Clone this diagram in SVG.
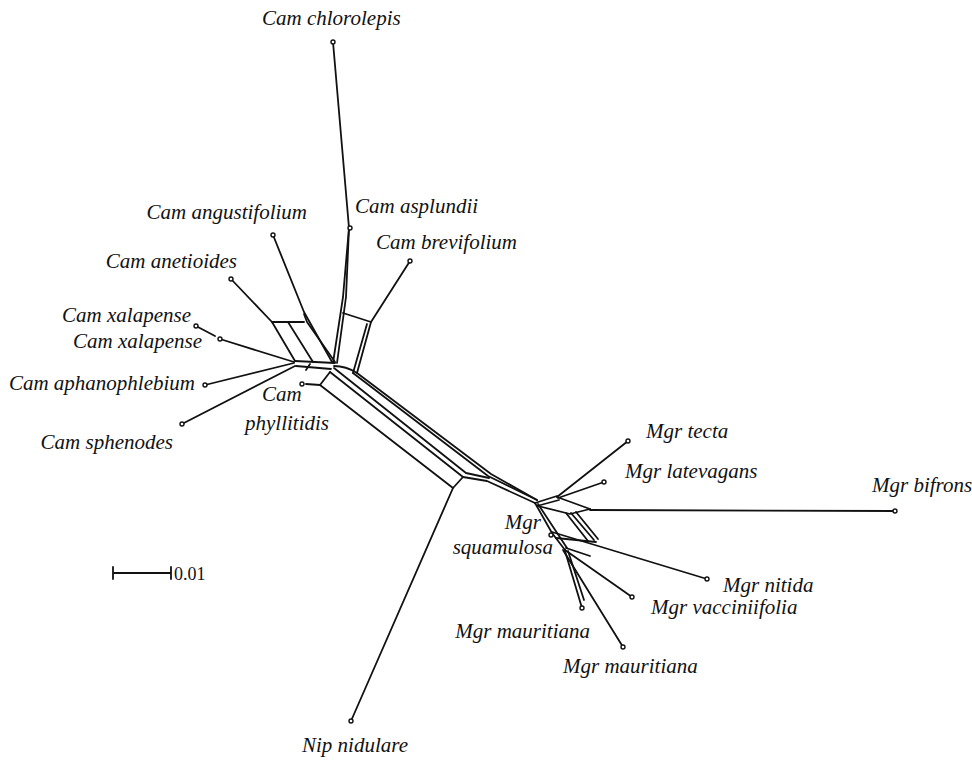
<svg xmlns="http://www.w3.org/2000/svg" width="972" height="761" viewBox="0 0 972 761">
<style>
.e{fill:none;stroke:#111;stroke-width:1.8;stroke-linejoin:round;stroke-linecap:round}
.t{font-family:"Liberation Serif","Times New Roman",serif;font-style:italic;font-size:21px;fill:#111}
.r{text-anchor:end}
.s{font-family:"Liberation Serif","Times New Roman",serif;font-size:18px;fill:#111}
.d{fill:#fff;stroke:#111;stroke-width:1.4}
</style>
<rect width="972" height="761" fill="#fff"/>
<g id="connectors">
<path class="e" d="M333,42 L349,228 L343,297 L333,363"/>
<path class="e" d="M349,228 L346,297 L337,363"/>
<path class="e" d="M410,261 L371,322 L357,373"/>
<path class="e" d="M343,313 L371,322"/>
<path class="e" d="M367,324 L353,373"/>
<path class="e" d="M231,279 L272,322 L295,361"/>
<path class="e" d="M272,322 L304,322"/>
<path class="e" d="M288,322 L313,362"/>
<path class="e" d="M273,235 L304,312 L332,362"/>
<path class="e" d="M304,314 L307,322 L335,362"/>
<path class="e" d="M295,361 L335,363"/>
<path class="e" d="M296,366 L331,369"/>
<path class="e" d="M310,364 L306,370"/>
<path class="e" d="M196,326 L215,336"/>
<path class="e" d="M220,339 L294,362"/>
<path class="e" d="M205,385 L294,363"/>
<path class="e" d="M182,424 L295,366"/>
<path class="e" d="M306,384 L320,385 L330,372"/>
<path class="e" d="M320,385 L453,488 L463,477"/>
<path class="e" d="M330,372 L463,477 L487,481 L535,503"/>
<path class="e" d="M334,368 L466,473 L489,478"/>
<path class="e" d="M353,373 L488,476 L537,500"/>
<path class="e" d="M334,366 Q346,366 357,373 L491,474 L537,500"/>
<path class="e" d="M453,488 L351,721"/>
<path class="e" d="M535,503 L557,496"/>
<path class="e" d="M537,506 L559,500"/>
<path class="e" d="M628,441 L557,497"/>
<path class="e" d="M604,482 L558,498"/>
<path class="e" d="M557,497 L590,509"/>
<path class="e" d="M538,506 L570,514 L590,509"/>
<path class="e" d="M590,510 L895,511"/>
<path class="e" d="M566,513 L588,541"/>
<path class="e" d="M571,513 L594,540"/>
<path class="e" d="M576,512 L598,539"/>
<path class="e" d="M535,503 L552,533 L565,550"/>
<path class="e" d="M538,504 L567,548"/>
<path class="e" d="M552,532 L707,579"/>
<path class="e" d="M556,538 L596,542"/>
<path class="e" d="M565,550 L632,597"/>
<path class="e" d="M566,548 L590,556"/>
<path class="e" d="M565,551 L582,608"/>
<path class="e" d="M568,551 L584,600"/>
<path class="e" d="M563,550 L623,647"/>
</g>
<g id="leaves">
<circle class="d" cx="333" cy="42" r="2"/>
<circle class="d" cx="350" cy="228" r="2"/>
<circle class="d" cx="273" cy="235" r="2"/>
<circle class="d" cx="410" cy="261" r="2"/>
<circle class="d" cx="231" cy="279" r="2"/>
<circle class="d" cx="196" cy="326" r="2"/>
<circle class="d" cx="220" cy="339" r="2"/>
<circle class="d" cx="205" cy="385" r="2"/>
<circle class="d" cx="182" cy="424" r="2"/>
<circle class="d" cx="302" cy="384" r="2"/>
<circle class="d" cx="628" cy="441" r="2"/>
<circle class="d" cx="604" cy="482" r="2"/>
<circle class="d" cx="895" cy="511" r="2"/>
<circle class="d" cx="551" cy="535" r="2"/>
<circle class="d" cx="707" cy="579" r="2"/>
<circle class="d" cx="632" cy="597" r="2"/>
<circle class="d" cx="582" cy="608" r="2"/>
<circle class="d" cx="623" cy="647" r="2"/>
<circle class="d" cx="351" cy="721" r="2"/>
</g>
<g id="labels">
<text class="t" x="262" y="25">Cam chlorolepis</text>
<text class="t" x="355" y="213">Cam asplundii</text>
<text class="t r" x="307" y="219">Cam angustifolium</text>
<text class="t" x="376" y="249">Cam brevifolium</text>
<text class="t r" x="237" y="268">Cam anetioides</text>
<text class="t r" x="191" y="322">Cam xalapense</text>
<text class="t r" x="202" y="348">Cam xalapense</text>
<text class="t r" x="195" y="390">Cam aphanophlebium</text>
<text class="t r" x="173" y="449">Cam sphenodes</text>
<text class="t" x="262" y="401">Cam</text>
<text class="t" x="245" y="430">phyllitidis</text>
<text class="t" x="646" y="438">Mgr tecta</text>
<text class="t" x="625" y="478">Mgr latevagans</text>
<text class="t" x="872" y="492">Mgr bifrons</text>
<text class="t r" x="541" y="529">Mgr</text>
<text class="t r" x="553" y="554">squamulosa</text>
<text class="t" x="723" y="592">Mgr nitida</text>
<text class="t" x="651" y="614">Mgr vacciniifolia</text>
<text class="t r" x="590" y="638">Mgr mauritiana</text>
<text class="t" x="563" y="673">Mgr mauritiana</text>
<text class="t" x="302" y="752">Nip nidulare</text>
</g>
<g id="scale">
<path class="e" d="M113,573 L171,573 M113,567 L113,579 M171,567 L171,579"/>
<text class="s" x="174" y="580">0.01</text>
</g>
</svg>
